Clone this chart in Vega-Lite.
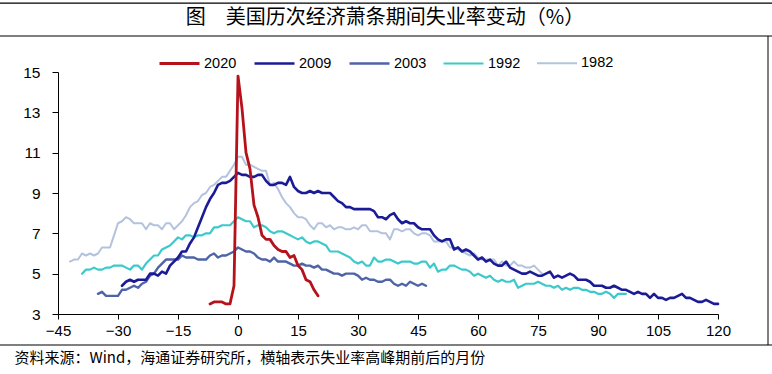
{
  "$schema": "https://vega.github.io/schema/vega-lite/v6.json",
  "width": 660,
  "height": 242,
  "autosize": {"type": "none"},
  "padding": {"left": 58, "top": 72, "right": 54, "bottom": 60},
  "background": "white",
  "config": {"view": {"stroke": null}, "font": "Liberation Sans"},
  "title": {"text": "图　美国历次经济萧条期间失业率变动（%）", "font": "Noto Sans CJK SC", "fontSize": 20, "fontWeight": "normal", "color": "#000000", "anchor": "middle", "frame": "group", "baseline": "middle", "offset": -35.5, "dx": -3},
  "layer": [
    {
      "data": {"values": [
{"year":"1982","month":-42,"rate":5.6},{"year":"1982","month":-41,"rate":5.7},{"year":"1982","month":-40,"rate":5.7},{"year":"1982","month":-39,"rate":6.0},{"year":"1982","month":-38,"rate":5.9},{"year":"1982","month":-37,"rate":6.0},{"year":"1982","month":-36,"rate":5.9},{"year":"1982","month":-35,"rate":6.0},{"year":"1982","month":-34,"rate":6.3},{"year":"1982","month":-33,"rate":6.3},{"year":"1982","month":-32,"rate":6.3},{"year":"1982","month":-31,"rate":6.9},{"year":"1982","month":-30,"rate":7.5},{"year":"1982","month":-29,"rate":7.6},{"year":"1982","month":-28,"rate":7.8},{"year":"1982","month":-27,"rate":7.7},{"year":"1982","month":-26,"rate":7.5},{"year":"1982","month":-25,"rate":7.5},{"year":"1982","month":-24,"rate":7.5},{"year":"1982","month":-23,"rate":7.2},{"year":"1982","month":-22,"rate":7.5},{"year":"1982","month":-21,"rate":7.4},{"year":"1982","month":-20,"rate":7.4},{"year":"1982","month":-19,"rate":7.2},{"year":"1982","month":-18,"rate":7.5},{"year":"1982","month":-17,"rate":7.5},{"year":"1982","month":-16,"rate":7.2},{"year":"1982","month":-15,"rate":7.4},{"year":"1982","month":-14,"rate":7.6},{"year":"1982","month":-13,"rate":7.9},{"year":"1982","month":-12,"rate":8.3},{"year":"1982","month":-11,"rate":8.5},{"year":"1982","month":-10,"rate":8.6},{"year":"1982","month":-9,"rate":8.9},{"year":"1982","month":-8,"rate":9.0},{"year":"1982","month":-7,"rate":9.3},{"year":"1982","month":-6,"rate":9.4},{"year":"1982","month":-5,"rate":9.6},{"year":"1982","month":-4,"rate":9.8},{"year":"1982","month":-3,"rate":9.8},{"year":"1982","month":-2,"rate":10.1},{"year":"1982","month":-1,"rate":10.4},{"year":"1982","month":0,"rate":10.8},{"year":"1982","month":1,"rate":10.8},{"year":"1982","month":2,"rate":10.4},{"year":"1982","month":3,"rate":10.4},{"year":"1982","month":4,"rate":10.3},{"year":"1982","month":5,"rate":10.2},{"year":"1982","month":6,"rate":10.1},{"year":"1982","month":7,"rate":10.1},{"year":"1982","month":8,"rate":9.4},{"year":"1982","month":9,"rate":9.5},{"year":"1982","month":10,"rate":9.2},{"year":"1982","month":11,"rate":8.8},{"year":"1982","month":12,"rate":8.5},{"year":"1982","month":13,"rate":8.3},{"year":"1982","month":14,"rate":8.0},{"year":"1982","month":15,"rate":7.8},{"year":"1982","month":16,"rate":7.8},{"year":"1982","month":17,"rate":7.7},{"year":"1982","month":18,"rate":7.4},{"year":"1982","month":19,"rate":7.2},{"year":"1982","month":20,"rate":7.5},{"year":"1982","month":21,"rate":7.5},{"year":"1982","month":22,"rate":7.3},{"year":"1982","month":23,"rate":7.4},{"year":"1982","month":24,"rate":7.2},{"year":"1982","month":25,"rate":7.3},{"year":"1982","month":26,"rate":7.3},{"year":"1982","month":27,"rate":7.2},{"year":"1982","month":28,"rate":7.2},{"year":"1982","month":29,"rate":7.3},{"year":"1982","month":30,"rate":7.2},{"year":"1982","month":31,"rate":7.4},{"year":"1982","month":32,"rate":7.4},{"year":"1982","month":33,"rate":7.1},{"year":"1982","month":34,"rate":7.1},{"year":"1982","month":35,"rate":7.1},{"year":"1982","month":36,"rate":7.0},{"year":"1982","month":37,"rate":7.0},{"year":"1982","month":38,"rate":6.7},{"year":"1982","month":39,"rate":7.2},{"year":"1982","month":40,"rate":7.2},{"year":"1982","month":41,"rate":7.1},{"year":"1982","month":42,"rate":7.2},{"year":"1982","month":43,"rate":7.2},{"year":"1982","month":44,"rate":7.0},{"year":"1982","month":45,"rate":6.9},{"year":"1982","month":46,"rate":7.0},{"year":"1982","month":47,"rate":7.0},{"year":"1982","month":48,"rate":6.9},{"year":"1982","month":49,"rate":6.6},{"year":"1982","month":50,"rate":6.6},{"year":"1982","month":51,"rate":6.6},{"year":"1982","month":52,"rate":6.6},{"year":"1982","month":53,"rate":6.3},{"year":"1982","month":54,"rate":6.3},{"year":"1982","month":55,"rate":6.2},{"year":"1982","month":56,"rate":6.1},{"year":"1982","month":57,"rate":6.0},{"year":"1982","month":58,"rate":5.9},{"year":"1982","month":59,"rate":6.0},{"year":"1982","month":60,"rate":5.8},{"year":"1982","month":61,"rate":5.7},{"year":"1982","month":62,"rate":5.7},{"year":"1982","month":63,"rate":5.7},{"year":"1982","month":64,"rate":5.7},{"year":"1982","month":65,"rate":5.4},{"year":"1982","month":66,"rate":5.6},{"year":"1982","month":67,"rate":5.4},{"year":"1982","month":68,"rate":5.4},{"year":"1982","month":69,"rate":5.6},{"year":"1982","month":70,"rate":5.4},{"year":"1982","month":71,"rate":5.4},{"year":"1982","month":72,"rate":5.3},{"year":"1982","month":73,"rate":5.3},{"year":"1982","month":74,"rate":5.4},{"year":"1982","month":75,"rate":5.2},{"year":"1982","month":76,"rate":5.0},
{"year":"1992","month":-39,"rate":5.0},{"year":"1992","month":-38,"rate":5.2},{"year":"1992","month":-37,"rate":5.2},{"year":"1992","month":-36,"rate":5.3},{"year":"1992","month":-35,"rate":5.2},{"year":"1992","month":-34,"rate":5.2},{"year":"1992","month":-33,"rate":5.3},{"year":"1992","month":-32,"rate":5.3},{"year":"1992","month":-31,"rate":5.4},{"year":"1992","month":-30,"rate":5.4},{"year":"1992","month":-29,"rate":5.4},{"year":"1992","month":-28,"rate":5.3},{"year":"1992","month":-27,"rate":5.2},{"year":"1992","month":-26,"rate":5.4},{"year":"1992","month":-25,"rate":5.4},{"year":"1992","month":-24,"rate":5.2},{"year":"1992","month":-23,"rate":5.5},{"year":"1992","month":-22,"rate":5.7},{"year":"1992","month":-21,"rate":5.9},{"year":"1992","month":-20,"rate":5.9},{"year":"1992","month":-19,"rate":6.2},{"year":"1992","month":-18,"rate":6.3},{"year":"1992","month":-17,"rate":6.4},{"year":"1992","month":-16,"rate":6.6},{"year":"1992","month":-15,"rate":6.8},{"year":"1992","month":-14,"rate":6.7},{"year":"1992","month":-13,"rate":6.9},{"year":"1992","month":-12,"rate":6.9},{"year":"1992","month":-11,"rate":6.8},{"year":"1992","month":-10,"rate":6.9},{"year":"1992","month":-9,"rate":6.9},{"year":"1992","month":-8,"rate":7.0},{"year":"1992","month":-7,"rate":7.0},{"year":"1992","month":-6,"rate":7.3},{"year":"1992","month":-5,"rate":7.3},{"year":"1992","month":-4,"rate":7.4},{"year":"1992","month":-3,"rate":7.4},{"year":"1992","month":-2,"rate":7.4},{"year":"1992","month":-1,"rate":7.6},{"year":"1992","month":0,"rate":7.8},{"year":"1992","month":1,"rate":7.7},{"year":"1992","month":2,"rate":7.6},{"year":"1992","month":3,"rate":7.6},{"year":"1992","month":4,"rate":7.3},{"year":"1992","month":5,"rate":7.4},{"year":"1992","month":6,"rate":7.4},{"year":"1992","month":7,"rate":7.3},{"year":"1992","month":8,"rate":7.1},{"year":"1992","month":9,"rate":7.0},{"year":"1992","month":10,"rate":7.1},{"year":"1992","month":11,"rate":7.1},{"year":"1992","month":12,"rate":7.0},{"year":"1992","month":13,"rate":6.9},{"year":"1992","month":14,"rate":6.8},{"year":"1992","month":15,"rate":6.7},{"year":"1992","month":16,"rate":6.8},{"year":"1992","month":17,"rate":6.6},{"year":"1992","month":18,"rate":6.5},{"year":"1992","month":19,"rate":6.6},{"year":"1992","month":20,"rate":6.6},{"year":"1992","month":21,"rate":6.5},{"year":"1992","month":22,"rate":6.4},{"year":"1992","month":23,"rate":6.1},{"year":"1992","month":24,"rate":6.1},{"year":"1992","month":25,"rate":6.1},{"year":"1992","month":26,"rate":6.0},{"year":"1992","month":27,"rate":5.9},{"year":"1992","month":28,"rate":5.8},{"year":"1992","month":29,"rate":5.6},{"year":"1992","month":30,"rate":5.5},{"year":"1992","month":31,"rate":5.6},{"year":"1992","month":32,"rate":5.4},{"year":"1992","month":33,"rate":5.4},{"year":"1992","month":34,"rate":5.8},{"year":"1992","month":35,"rate":5.6},{"year":"1992","month":36,"rate":5.6},{"year":"1992","month":37,"rate":5.7},{"year":"1992","month":38,"rate":5.7},{"year":"1992","month":39,"rate":5.6},{"year":"1992","month":40,"rate":5.5},{"year":"1992","month":41,"rate":5.6},{"year":"1992","month":42,"rate":5.6},{"year":"1992","month":43,"rate":5.6},{"year":"1992","month":44,"rate":5.5},{"year":"1992","month":45,"rate":5.5},{"year":"1992","month":46,"rate":5.6},{"year":"1992","month":47,"rate":5.6},{"year":"1992","month":48,"rate":5.3},{"year":"1992","month":49,"rate":5.5},{"year":"1992","month":50,"rate":5.1},{"year":"1992","month":51,"rate":5.2},{"year":"1992","month":52,"rate":5.2},{"year":"1992","month":53,"rate":5.4},{"year":"1992","month":54,"rate":5.4},{"year":"1992","month":55,"rate":5.3},{"year":"1992","month":56,"rate":5.2},{"year":"1992","month":57,"rate":5.2},{"year":"1992","month":58,"rate":5.1},{"year":"1992","month":59,"rate":4.9},{"year":"1992","month":60,"rate":5.0},{"year":"1992","month":61,"rate":4.9},{"year":"1992","month":62,"rate":4.8},{"year":"1992","month":63,"rate":4.9},{"year":"1992","month":64,"rate":4.7},{"year":"1992","month":65,"rate":4.6},{"year":"1992","month":66,"rate":4.7},{"year":"1992","month":67,"rate":4.6},{"year":"1992","month":68,"rate":4.6},{"year":"1992","month":69,"rate":4.7},{"year":"1992","month":70,"rate":4.3},{"year":"1992","month":71,"rate":4.4},{"year":"1992","month":72,"rate":4.5},{"year":"1992","month":73,"rate":4.5},{"year":"1992","month":74,"rate":4.5},{"year":"1992","month":75,"rate":4.6},{"year":"1992","month":76,"rate":4.5},{"year":"1992","month":77,"rate":4.4},{"year":"1992","month":78,"rate":4.4},{"year":"1992","month":79,"rate":4.3},{"year":"1992","month":80,"rate":4.4},{"year":"1992","month":81,"rate":4.2},{"year":"1992","month":82,"rate":4.3},{"year":"1992","month":83,"rate":4.2},{"year":"1992","month":84,"rate":4.3},{"year":"1992","month":85,"rate":4.3},{"year":"1992","month":86,"rate":4.2},{"year":"1992","month":87,"rate":4.2},{"year":"1992","month":88,"rate":4.1},{"year":"1992","month":89,"rate":4.1},{"year":"1992","month":90,"rate":4.0},{"year":"1992","month":91,"rate":4.0},{"year":"1992","month":92,"rate":4.1},{"year":"1992","month":93,"rate":4.0},{"year":"1992","month":94,"rate":3.8},{"year":"1992","month":95,"rate":4.0},{"year":"1992","month":96,"rate":4.0},{"year":"1992","month":97,"rate":4.0},
{"year":"2003","month":-35,"rate":4.0},{"year":"2003","month":-34,"rate":4.1},{"year":"2003","month":-33,"rate":3.9},{"year":"2003","month":-32,"rate":3.9},{"year":"2003","month":-31,"rate":3.9},{"year":"2003","month":-30,"rate":3.9},{"year":"2003","month":-29,"rate":4.2},{"year":"2003","month":-28,"rate":4.2},{"year":"2003","month":-27,"rate":4.3},{"year":"2003","month":-26,"rate":4.4},{"year":"2003","month":-25,"rate":4.3},{"year":"2003","month":-24,"rate":4.5},{"year":"2003","month":-23,"rate":4.6},{"year":"2003","month":-22,"rate":4.9},{"year":"2003","month":-21,"rate":5.0},{"year":"2003","month":-20,"rate":5.3},{"year":"2003","month":-19,"rate":5.5},{"year":"2003","month":-18,"rate":5.7},{"year":"2003","month":-17,"rate":5.7},{"year":"2003","month":-16,"rate":5.7},{"year":"2003","month":-15,"rate":5.7},{"year":"2003","month":-14,"rate":5.9},{"year":"2003","month":-13,"rate":5.8},{"year":"2003","month":-12,"rate":5.8},{"year":"2003","month":-11,"rate":5.8},{"year":"2003","month":-10,"rate":5.7},{"year":"2003","month":-9,"rate":5.7},{"year":"2003","month":-8,"rate":5.7},{"year":"2003","month":-7,"rate":5.9},{"year":"2003","month":-6,"rate":6.0},{"year":"2003","month":-5,"rate":5.8},{"year":"2003","month":-4,"rate":5.9},{"year":"2003","month":-3,"rate":5.9},{"year":"2003","month":-2,"rate":6.0},{"year":"2003","month":-1,"rate":6.1},{"year":"2003","month":0,"rate":6.3},{"year":"2003","month":1,"rate":6.2},{"year":"2003","month":2,"rate":6.1},{"year":"2003","month":3,"rate":6.1},{"year":"2003","month":4,"rate":6.0},{"year":"2003","month":5,"rate":5.8},{"year":"2003","month":6,"rate":5.7},{"year":"2003","month":7,"rate":5.7},{"year":"2003","month":8,"rate":5.6},{"year":"2003","month":9,"rate":5.8},{"year":"2003","month":10,"rate":5.6},{"year":"2003","month":11,"rate":5.6},{"year":"2003","month":12,"rate":5.6},{"year":"2003","month":13,"rate":5.5},{"year":"2003","month":14,"rate":5.4},{"year":"2003","month":15,"rate":5.4},{"year":"2003","month":16,"rate":5.5},{"year":"2003","month":17,"rate":5.4},{"year":"2003","month":18,"rate":5.4},{"year":"2003","month":19,"rate":5.3},{"year":"2003","month":20,"rate":5.4},{"year":"2003","month":21,"rate":5.2},{"year":"2003","month":22,"rate":5.2},{"year":"2003","month":23,"rate":5.1},{"year":"2003","month":24,"rate":5.0},{"year":"2003","month":25,"rate":5.0},{"year":"2003","month":26,"rate":4.9},{"year":"2003","month":27,"rate":5.0},{"year":"2003","month":28,"rate":5.0},{"year":"2003","month":29,"rate":5.0},{"year":"2003","month":30,"rate":4.9},{"year":"2003","month":31,"rate":4.7},{"year":"2003","month":32,"rate":4.8},{"year":"2003","month":33,"rate":4.7},{"year":"2003","month":34,"rate":4.7},{"year":"2003","month":35,"rate":4.6},{"year":"2003","month":36,"rate":4.6},{"year":"2003","month":37,"rate":4.7},{"year":"2003","month":38,"rate":4.7},{"year":"2003","month":39,"rate":4.5},{"year":"2003","month":40,"rate":4.4},{"year":"2003","month":41,"rate":4.5},{"year":"2003","month":42,"rate":4.4},{"year":"2003","month":43,"rate":4.6},{"year":"2003","month":44,"rate":4.5},{"year":"2003","month":45,"rate":4.4},{"year":"2003","month":46,"rate":4.5},{"year":"2003","month":47,"rate":4.4},
{"year":"2009","month":-29,"rate":4.4},{"year":"2009","month":-28,"rate":4.6},{"year":"2009","month":-27,"rate":4.7},{"year":"2009","month":-26,"rate":4.6},{"year":"2009","month":-25,"rate":4.7},{"year":"2009","month":-24,"rate":4.7},{"year":"2009","month":-23,"rate":4.7},{"year":"2009","month":-22,"rate":5.0},{"year":"2009","month":-21,"rate":5.0},{"year":"2009","month":-20,"rate":4.9},{"year":"2009","month":-19,"rate":5.1},{"year":"2009","month":-18,"rate":5.0},{"year":"2009","month":-17,"rate":5.4},{"year":"2009","month":-16,"rate":5.6},{"year":"2009","month":-15,"rate":5.8},{"year":"2009","month":-14,"rate":6.1},{"year":"2009","month":-13,"rate":6.1},{"year":"2009","month":-12,"rate":6.5},{"year":"2009","month":-11,"rate":6.8},{"year":"2009","month":-10,"rate":7.3},{"year":"2009","month":-9,"rate":7.8},{"year":"2009","month":-8,"rate":8.3},{"year":"2009","month":-7,"rate":8.7},{"year":"2009","month":-6,"rate":9.0},{"year":"2009","month":-5,"rate":9.4},{"year":"2009","month":-4,"rate":9.5},{"year":"2009","month":-3,"rate":9.5},{"year":"2009","month":-2,"rate":9.6},{"year":"2009","month":-1,"rate":9.8},{"year":"2009","month":0,"rate":10.0},{"year":"2009","month":1,"rate":9.9},{"year":"2009","month":2,"rate":9.9},{"year":"2009","month":3,"rate":9.8},{"year":"2009","month":4,"rate":9.8},{"year":"2009","month":5,"rate":9.9},{"year":"2009","month":6,"rate":9.9},{"year":"2009","month":7,"rate":9.6},{"year":"2009","month":8,"rate":9.4},{"year":"2009","month":9,"rate":9.4},{"year":"2009","month":10,"rate":9.5},{"year":"2009","month":11,"rate":9.5},{"year":"2009","month":12,"rate":9.4},{"year":"2009","month":13,"rate":9.8},{"year":"2009","month":14,"rate":9.3},{"year":"2009","month":15,"rate":9.1},{"year":"2009","month":16,"rate":9.0},{"year":"2009","month":17,"rate":9.0},{"year":"2009","month":18,"rate":9.1},{"year":"2009","month":19,"rate":9.0},{"year":"2009","month":20,"rate":9.1},{"year":"2009","month":21,"rate":9.0},{"year":"2009","month":22,"rate":9.0},{"year":"2009","month":23,"rate":9.0},{"year":"2009","month":24,"rate":8.8},{"year":"2009","month":25,"rate":8.6},{"year":"2009","month":26,"rate":8.5},{"year":"2009","month":27,"rate":8.3},{"year":"2009","month":28,"rate":8.3},{"year":"2009","month":29,"rate":8.2},{"year":"2009","month":30,"rate":8.2},{"year":"2009","month":31,"rate":8.2},{"year":"2009","month":32,"rate":8.2},{"year":"2009","month":33,"rate":8.2},{"year":"2009","month":34,"rate":8.1},{"year":"2009","month":35,"rate":7.8},{"year":"2009","month":36,"rate":7.8},{"year":"2009","month":37,"rate":7.7},{"year":"2009","month":38,"rate":7.9},{"year":"2009","month":39,"rate":8.0},{"year":"2009","month":40,"rate":7.7},{"year":"2009","month":41,"rate":7.5},{"year":"2009","month":42,"rate":7.6},{"year":"2009","month":43,"rate":7.5},{"year":"2009","month":44,"rate":7.5},{"year":"2009","month":45,"rate":7.3},{"year":"2009","month":46,"rate":7.2},{"year":"2009","month":47,"rate":7.2},{"year":"2009","month":48,"rate":7.2},{"year":"2009","month":49,"rate":6.9},{"year":"2009","month":50,"rate":6.7},{"year":"2009","month":51,"rate":6.6},{"year":"2009","month":52,"rate":6.7},{"year":"2009","month":53,"rate":6.7},{"year":"2009","month":54,"rate":6.2},{"year":"2009","month":55,"rate":6.3},{"year":"2009","month":56,"rate":6.1},{"year":"2009","month":57,"rate":6.2},{"year":"2009","month":58,"rate":6.1},{"year":"2009","month":59,"rate":5.9},{"year":"2009","month":60,"rate":5.7},{"year":"2009","month":61,"rate":5.8},{"year":"2009","month":62,"rate":5.6},{"year":"2009","month":63,"rate":5.7},{"year":"2009","month":64,"rate":5.5},{"year":"2009","month":65,"rate":5.4},{"year":"2009","month":66,"rate":5.4},{"year":"2009","month":67,"rate":5.6},{"year":"2009","month":68,"rate":5.3},{"year":"2009","month":69,"rate":5.2},{"year":"2009","month":70,"rate":5.1},{"year":"2009","month":71,"rate":5.0},{"year":"2009","month":72,"rate":5.0},{"year":"2009","month":73,"rate":5.1},{"year":"2009","month":74,"rate":5.0},{"year":"2009","month":75,"rate":4.9},{"year":"2009","month":76,"rate":4.9},{"year":"2009","month":77,"rate":5.0},{"year":"2009","month":78,"rate":5.1},{"year":"2009","month":79,"rate":4.8},{"year":"2009","month":80,"rate":4.9},{"year":"2009","month":81,"rate":4.8},{"year":"2009","month":82,"rate":4.9},{"year":"2009","month":83,"rate":5.0},{"year":"2009","month":84,"rate":4.9},{"year":"2009","month":85,"rate":4.7},{"year":"2009","month":86,"rate":4.7},{"year":"2009","month":87,"rate":4.7},{"year":"2009","month":88,"rate":4.6},{"year":"2009","month":89,"rate":4.4},{"year":"2009","month":90,"rate":4.4},{"year":"2009","month":91,"rate":4.4},{"year":"2009","month":92,"rate":4.3},{"year":"2009","month":93,"rate":4.3},{"year":"2009","month":94,"rate":4.4},{"year":"2009","month":95,"rate":4.3},{"year":"2009","month":96,"rate":4.2},{"year":"2009","month":97,"rate":4.2},{"year":"2009","month":98,"rate":4.1},{"year":"2009","month":99,"rate":4.0},{"year":"2009","month":100,"rate":4.1},{"year":"2009","month":101,"rate":4.0},{"year":"2009","month":102,"rate":4.0},{"year":"2009","month":103,"rate":3.8},{"year":"2009","month":104,"rate":4.0},{"year":"2009","month":105,"rate":3.8},{"year":"2009","month":106,"rate":3.8},{"year":"2009","month":107,"rate":3.7},{"year":"2009","month":108,"rate":3.8},{"year":"2009","month":109,"rate":3.8},{"year":"2009","month":110,"rate":3.9},{"year":"2009","month":111,"rate":4.0},{"year":"2009","month":112,"rate":3.8},{"year":"2009","month":113,"rate":3.8},{"year":"2009","month":114,"rate":3.7},{"year":"2009","month":115,"rate":3.6},{"year":"2009","month":116,"rate":3.6},{"year":"2009","month":117,"rate":3.7},{"year":"2009","month":118,"rate":3.6},{"year":"2009","month":119,"rate":3.5},{"year":"2009","month":120,"rate":3.5},
{"year":"2020","month":-7,"rate":3.5},{"year":"2020","month":-6,"rate":3.6},{"year":"2020","month":-5,"rate":3.6},{"year":"2020","month":-4,"rate":3.6},{"year":"2020","month":-3,"rate":3.5},{"year":"2020","month":-2,"rate":3.5},{"year":"2020","month":-1,"rate":4.4},{"year":"2020","month":0,"rate":14.8},{"year":"2020","month":1,"rate":13.2},{"year":"2020","month":2,"rate":11.0},{"year":"2020","month":3,"rate":10.2},{"year":"2020","month":4,"rate":8.4},{"year":"2020","month":5,"rate":7.8},{"year":"2020","month":6,"rate":6.9},{"year":"2020","month":7,"rate":6.7},{"year":"2020","month":8,"rate":6.7},{"year":"2020","month":9,"rate":6.4},{"year":"2020","month":10,"rate":6.2},{"year":"2020","month":11,"rate":6.1},{"year":"2020","month":12,"rate":6.1},{"year":"2020","month":13,"rate":5.8},{"year":"2020","month":14,"rate":5.9},{"year":"2020","month":15,"rate":5.4},{"year":"2020","month":16,"rate":5.2},{"year":"2020","month":17,"rate":4.7},{"year":"2020","month":18,"rate":4.6},{"year":"2020","month":19,"rate":4.2},{"year":"2020","month":20,"rate":3.9}
      ]},
      "mark": {"type": "line", "strokeJoin": "round", "strokeCap": "round"},
      "encoding": {
        "x": {"field": "month", "type": "quantitative", "scale": {"domain": [-45, 120], "nice": false, "zero": false},
          "axis": {"values": [-45, -30, -15, 0, 15, 30, 45, 60, 75, 90, 105, 120], "grid": false, "tickSize": 5, "domainColor": "#000000", "tickColor": "#000000", "labelColor": "#000000", "labelFont": "Liberation Sans", "labelFontSize": 15, "labelPadding": 4, "labelFlush": false,
            "title": "资料来源：Wind，海通证券研究所，横轴表示失业率高峰期前后的月份", "titleFont": "Noto Sans CJK SC", "titleFontSize": 15, "titleFontWeight": "normal", "titleColor": "#000000", "titleAnchor": "start", "titleAlign": "left", "titleBaseline": "middle", "titleX": -44, "titleY": 43}},
        "y": {"field": "rate", "type": "quantitative", "scale": {"domain": [3, 15], "nice": false, "zero": false},
          "axis": {"values": [3, 5, 7, 9, 11, 13, 15], "grid": false, "tickSize": 6, "domainColor": "#000000", "tickColor": "#000000", "labelColor": "#000000", "labelFont": "Liberation Sans", "labelFontSize": 15.5, "labelPadding": 12, "labelFlush": false, "title": null}},
        "color": {"field": "year", "type": "ordinal", "scale": {"domain": ["2020", "2009", "2003", "1992", "1982"], "range": ["#B5121B", "#1B1B96", "#4E63A8", "#3DC9CC", "#B3C3DD"]},
          "legend": {"orient": "none", "legendX": 100, "legendY": -30, "direction": "horizontal", "title": null, "symbolType": "stroke", "symbolSize": 1600, "labelFont": "Liberation Sans", "labelFontSize": 14.5, "labelColor": "#000000", "labelOffset": 3, "columnPadding": 12}},
        "strokeWidth": {"field": "year", "type": "ordinal", "scale": {"domain": ["2020", "2009", "2003", "1992", "1982"], "range": [2.8, 2, 2, 2, 2.2]},
          "legend": {"orient": "none", "legendX": 100, "legendY": -30, "direction": "horizontal", "title": null, "symbolType": "stroke", "symbolSize": 1600, "labelFont": "Liberation Sans", "labelFontSize": 14.5, "labelColor": "#000000", "labelOffset": 3, "columnPadding": 12}}
      }
    },
    {
      "data": {"values": [{}]},
      "mark": {"type": "rule", "color": "#000000", "strokeWidth": 1.2},
      "encoding": {"x": {"datum": -59.5}, "x2": {"datum": 133.5}, "y": {"datum": 18.42}}
    },
    {
      "data": {"values": [{}]},
      "mark": {"type": "rule", "color": "#000000", "strokeWidth": 1.2},
      "encoding": {"x": {"datum": -59.5}, "x2": {"datum": 133.5}, "y": {"datum": 16.785}}
    },
    {
      "data": {"values": [{}]},
      "mark": {"type": "rule", "color": "#000000", "strokeWidth": 1.2},
      "encoding": {"x": {"datum": -59.5}, "x2": {"datum": 133.5}, "y": {"datum": 1.463}}
    },
    {
      "data": {"values": [{}]},
      "mark": {"type": "rule", "color": "#000000", "strokeWidth": 1},
      "encoding": {"x": {"datum": 132.5}, "y": {"datum": 16.785}, "y2": {"datum": 1.463}}
    }
  ]
}
